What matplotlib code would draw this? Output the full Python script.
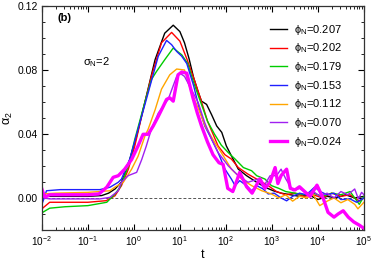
import numpy as np
import matplotlib
matplotlib.use("Agg")
import matplotlib.pyplot as plt
from matplotlib.ticker import LogLocator, MultipleLocator, NullFormatter, FixedLocator

plt.rcParams['font.family'] = ['Liberation Sans', 'DejaVu Sans']
plt.rcParams['mathtext.fontset'] = 'custom'
plt.rcParams['mathtext.rm'] = 'Liberation Sans'
plt.rcParams['mathtext.it'] = 'Liberation Sans'
plt.rcParams['mathtext.sf'] = 'Liberation Sans'

# ---- data: log10(t) and alpha_2 for each packing fraction ----
labels = ["0.207", "0.202", "0.179", "0.153", "0.112", "0.070", "0.024"]
colors = ["#000000", "#ff0000", "#00cc00", "#2020ff", "#ffa500", "#a020f0", "#ff00ff"]
xtick_exponents = [-2, -1, 0, 1, 2, 3, 4, 5]

logt_207 = [-2.0, -1.9, -1.8, -1.5, -1.0, -0.7, -0.55, -0.41, -0.27, -0.13, 0.06, 0.24, 0.46, 0.67, 0.855,
            1.0, 1.1, 1.2, 1.3, 1.4, 1.47, 1.58, 1.69, 1.8, 1.91, 2.01, 2.12, 2.27, 2.45, 2.67, 2.85, 3.03,
            3.2, 3.4, 3.6, 3.8, 4.0, 4.2, 4.4, 4.6, 4.8, 5.0]
a2_207 = [0.0, 0.001, 0.001, 0.001, 0.001, 0.0015, 0.003, 0.0056, 0.0099, 0.020, 0.0387, 0.060, 0.0864, 0.103, 0.108,
          0.104, 0.097, 0.087, 0.075, 0.066, 0.0605, 0.0585, 0.052, 0.045, 0.041, 0.0325, 0.0263, 0.018, 0.0139,
          0.0098, 0.0067, 0.0045, 0.003, 0.002, 0.001, 0.002, -0.001, 0.001, 0.0, 0.002, 0.0, 0.001]

logt_202 = [-2.0, -1.83, -1.5, -1.0, -0.6, -0.41, -0.27, -0.12, 0.02, 0.2, 0.38, 0.6, 0.82, 1.0, 1.15, 1.3,
            1.45, 1.6, 1.83, 1.98, 2.12, 2.27, 2.48, 2.67, 2.92, 3.1, 3.3, 3.5, 3.7, 3.9, 4.1, 4.3, 4.5, 4.7,
            4.9, 5.0]
a2_202 = [-0.0068, -0.0027, -0.0027, -0.0027, -0.0017, 0.0014, 0.0077, 0.018, 0.0325, 0.055, 0.076, 0.097,
          0.1035, 0.098, 0.087, 0.075, 0.062, 0.048, 0.0325, 0.027, 0.0243, 0.019, 0.0149, 0.0118, 0.0077,
          0.004, 0.002, 0.003, 0.001, 0.002, 0.0, 0.003, 0.001, 0.002, -0.002, 0.0]

logt_179 = [-2.0, -1.83, -1.5, -1.0, -0.59, -0.41, -0.30, -0.12, 0.02, 0.24, 0.38, 0.49, 0.67, 0.855, 1.04,
            1.17, 1.3, 1.45, 1.6, 1.75, 1.9, 2.05, 2.2, 2.38, 2.56, 2.67, 2.85, 2.99, 3.15, 3.3, 3.5, 3.7,
            3.9, 4.1, 4.3, 4.5, 4.7, 4.9, 5.0]
a2_179 = [-0.0093, -0.0064, -0.0055, -0.0048, -0.0027, 0.0025, 0.0068, 0.020, 0.0367, 0.060, 0.074, 0.079,
          0.0864, 0.0937, 0.0895, 0.084, 0.072, 0.06, 0.048, 0.04, 0.033, 0.0284, 0.0243, 0.019, 0.017,
          0.0139, 0.0118, 0.0077, 0.006, 0.004, 0.003, 0.002, 0.003, 0.001, 0.003, 0.002, 0.004, -0.004, 0.001]

logt_153 = [-2.0, -1.95, -1.9, -1.6, -1.0, -0.74, -0.52, -0.34, -0.27, -0.09, 0.09, 0.31, 0.53, 0.71, 0.82,
            0.93, 1.04, 1.15, 1.3, 1.42, 1.54, 1.69, 1.83, 1.98, 2.12, 2.2, 2.3, 2.45, 2.56, 2.67, 2.81, 2.92,
            3.05, 3.2, 3.32, 3.45, 3.6, 3.75, 3.93, 4.05, 4.2, 4.35, 4.5, 4.7, 4.84, 5.0]
a2_153 = [-0.004, 0.0, 0.0045, 0.0052, 0.0052, 0.0052, 0.0067, 0.0098, 0.0118, 0.0243, 0.0429, 0.0657, 0.0886,
          0.0985, 0.0958, 0.0916, 0.0886, 0.084, 0.07, 0.056, 0.045, 0.0367, 0.0284, 0.018, 0.0118, 0.0077,
          0.0108, 0.0077, 0.0045, 0.0077, 0.0056, 0.0025, 0.003, 0.0, -0.0018, 0.001, 0.003, 0.002, 0.0068,
          0.004, 0.002, 0.003, -0.001, -0.0006, -0.0027, 0.0]

logt_112 = [-2.0, -1.7, -1.0, -0.52, -0.41, -0.23, -0.05, 0.09, 0.24, 0.31, 0.46, 0.6, 0.78, 0.93, 1.1, 1.25,
            1.4, 1.55, 1.76, 1.9, 2.12, 2.34, 2.56, 2.78, 2.99, 3.15, 3.3, 3.45, 3.6, 3.75, 3.9, 4.04, 4.2,
            4.35, 4.5, 4.65, 4.8, 4.87, 5.0]
a2_112 = [0.0025, 0.003, 0.0035, 0.0045, 0.0068, 0.0098, 0.018, 0.026, 0.0387, 0.043, 0.055, 0.068, 0.077,
          0.0806, 0.080, 0.066, 0.056, 0.045, 0.0346, 0.0284, 0.018, 0.0118, 0.0077, 0.0045, 0.0025, 0.0,
          0.002, -0.002, 0.001, 0.0, 0.002, -0.0048, -0.002, 0.0, -0.003, -0.001, -0.004, -0.0068, -0.0027]

logt_070 = [-2.0, -1.83, -1.0, -0.74, -0.52, -0.34, -0.27, -0.12, 0.06, 0.17, 0.27, 0.38, 0.53, 0.75, 0.93,
            1.0, 1.1, 1.25, 1.4, 1.54, 1.69, 1.83, 2.05, 2.27, 2.48, 2.7, 2.81, 2.96, 3.1, 3.2, 3.3, 3.46,
            3.6, 3.75, 3.9, 4.05, 4.2, 4.35, 4.5, 4.65, 4.8, 4.88, 4.95, 5.0]
a2_070 = [0.0004, -0.0006, -0.0006, -0.0006, 0.0004, 0.0045, 0.0099, 0.014, 0.016, 0.024, 0.0325, 0.043,
          0.053, 0.062, 0.076, 0.078, 0.076, 0.0678, 0.0595, 0.047, 0.0367, 0.0284, 0.0201, 0.0139, 0.0098,
          0.0118, 0.0067, 0.0139, 0.0139, 0.018, 0.012, 0.0045, 0.006, 0.003, 0.004, 0.001, 0.003, 0.0,
          0.004, 0.002, 0.0056, -0.0006, 0.0035, 0.002]

logt_024 = [-2.0, -1.97, -1.93, -1.83, -1.0, -0.76, -0.59, -0.45, -0.34, -0.2, -0.05, 0.09, 0.2, 0.31, 0.42,
            0.53, 0.64, 0.71, 0.78, 0.855, 0.96, 1.04, 1.15, 1.28, 1.38, 1.47, 1.6, 1.72, 1.85, 1.94, 2.04,
            2.15, 2.24, 2.3, 2.45, 2.57, 2.74, 2.85, 2.96, 3.07, 3.13, 3.2, 3.32, 3.4, 3.5, 3.6, 3.75, 3.83,
            3.98, 4.12, 4.22, 4.35, 4.44, 4.55, 4.66, 4.78, 4.9, 5.0]
a2_024 = [0.0056, 0.003, 0.0006, 0.002, 0.002, 0.0025, 0.0067, 0.0129, 0.0139, 0.018, 0.024, 0.0325, 0.0398,
          0.0398, 0.045, 0.051, 0.0574, 0.0616, 0.0626, 0.0605, 0.077, 0.0787, 0.078, 0.063, 0.053, 0.045,
          0.035, 0.027, 0.022, 0.021, 0.006, 0.004, 0.011, 0.016, 0.007, 0.003, 0.012, 0.006, 0.01, 0.019,
          0.009, 0.014, 0.018, 0.006, 0.005, 0.007, 0.003, 0.001, 0.008, -0.0006, -0.009, -0.012, -0.01,
          -0.008, -0.012, -0.015, -0.017, -0.019]

series_logt = [logt_207, logt_202, logt_179, logt_153, logt_112, logt_070, logt_024]
series_a2 = [a2_207, a2_202, a2_179, a2_153, a2_112, a2_070, a2_024]
linewidths = [1.0, 1.0, 1.0, 1.0, 1.0, 1.0, 2.4]

fig = plt.figure(figsize=(3.74, 2.61), dpi=100)
ax = fig.add_axes([0.112, 0.119, 0.861, 0.858])

ax.axhline(0.0, color="#555555", lw=0.7, ls=(0, (3, 2)), zorder=1)

for lab, col, lt, a2, lw in zip(labels, colors, series_logt, series_a2, linewidths):
    t = 10.0 ** np.asarray(lt)
    ax.plot(t, a2, color=col, lw=lw, label=r"$\phi_{\rm N}$=" + lab, zorder=2)

ax.set_xscale("log")
ax.set_xlim(1e-2, 1e5)
ax.set_ylim(-0.02, 0.12)
ax.set_yticks([0.0, 0.04, 0.08, 0.12])
ax.set_yticklabels(["0.00", "0.04", "0.08", "0.12"])
ax.yaxis.set_minor_locator(MultipleLocator(0.01))
ax.set_xticks([10.0 ** e for e in xtick_exponents])
ax.set_xticklabels([r"$10^{%d}$" % e for e in xtick_exponents])
minor_x = [m * 10.0 ** e for e in xtick_exponents[:-1] for m in range(2, 10)]
ax.xaxis.set_minor_locator(FixedLocator(minor_x))
ax.xaxis.set_minor_formatter(NullFormatter())
ax.tick_params(which="both", direction="in", top=True, right=True, labelsize=7.5, pad=3)
ax.tick_params(axis="x", which="major", labelsize=7.2)
ax.tick_params(which="major", length=4, width=0.8)
ax.tick_params(which="minor", length=2, width=0.6)
for s in ax.spines.values():
    s.set_linewidth(0.9)
    s.set_color("#333333")

ax.set_xlabel("t", fontsize=9, labelpad=1)
ax.set_ylabel(r"$\alpha_2$", fontsize=9, labelpad=2)

ax.text(0.05, 0.945, "(b)", transform=ax.transAxes, fontsize=8, fontweight="bold", va="center")
ax.text(0.128, 0.75, r"$\sigma_{\rm N}$=2", transform=ax.transAxes, fontsize=8, va="center")

ax.legend(loc="upper left", bbox_to_anchor=(0.70, 0.935), frameon=False, fontsize=8,
          handlelength=1.6, handletextpad=0.6, labelspacing=0.42, borderaxespad=0.0,
          borderpad=0.2)

fig.savefig("out.png", dpi=100)
